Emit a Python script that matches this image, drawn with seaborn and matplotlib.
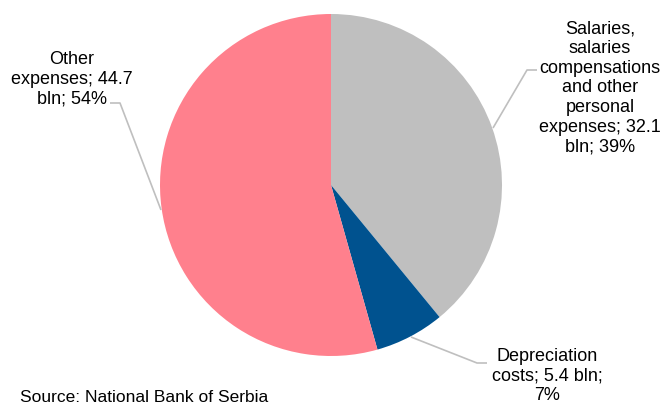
import matplotlib
matplotlib.use('Agg')
import matplotlib.pyplot as plt
import seaborn as sns
import numpy as np

# Expense structure (bln)
categories = ['Salaries, salaries compensations and other personal expenses',
              'Depreciation costs', 'Other expenses']
values = [32.1, 5.4, 44.7]
label_text = ['Salaries,\nsalaries\ncompensations\nand other\npersonal\nexpenses; {v}\nbln; {p}%',
              'Depreciation\ncosts; {v} bln;\n{p}%',
              'Other\nexpenses; {v}\nbln; {p}%']
colors = ['#BFBFBF', '#00528F', '#FF808D']

sns.set_style('white')
plt.rcParams['font.family'] = ['Liberation Sans', 'DejaVu Sans']

W, H = 665, 403
fig = plt.figure(figsize=(W / 100, H / 100), dpi=100)
ax = fig.add_axes([0, 0, 1, 1])
ax.set_xlim(0, W)
ax.set_ylim(0, H)
ax.set_aspect('equal')
ax.axis('off')

def py(y):
    # pixel row from top -> data y
    return H - y

cx, cy, r = 331, py(185), 171
ax.pie(values, colors=colors, startangle=90, counterclock=False,
       center=(cx, cy), radius=r, wedgeprops=dict(linewidth=0))
ax.set_xlim(0, W)
ax.set_ylim(0, H)

total = sum(values)
pcts = [round(v / total * 100) for v in values]
texts = [t.format(v=v, p=p) for t, v, p in zip(label_text, values, pcts)]

line_col = '#BFBFBF'
# leader lines (pixel coords)
leaders = [
    [(493, 128), (527, 70), (537, 70)],
    [(411, 337), (477, 363), (487, 363)],
    [(161, 210), (120, 103), (110, 103)],
]
for pts in leaders:
    xs = [p[0] for p in pts]
    ys = [py(p[1]) for p in pts]
    ax.plot(xs, ys, color=line_col, lw=1.2, solid_capstyle='butt')

label_pos = [(600, 88), (547, 376), (72, 79)]
for t, (x, y) in zip(texts, label_pos):
    ax.text(x, py(y), t, ha='center', va='center', fontsize=13,
            color='black', linespacing=1.2)

ax.text(20, py(402), 'Source: National Bank of Serbia', ha='left', va='baseline',
        fontsize=12.5, color='black')

fig.savefig('out.png', dpi=100)
